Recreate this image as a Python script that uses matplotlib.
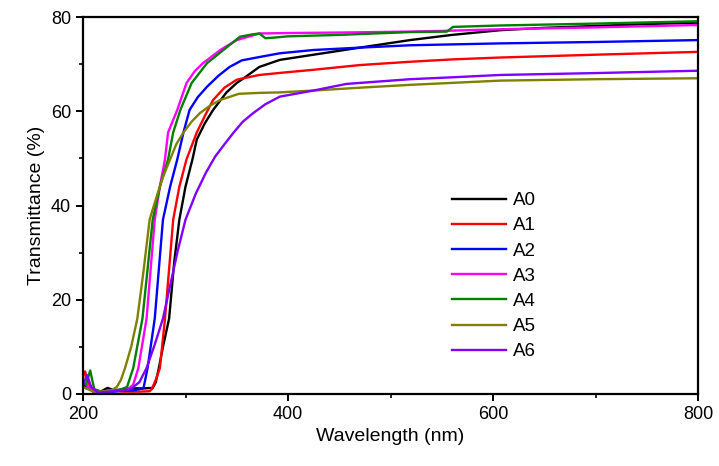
import matplotlib
matplotlib.use("Agg")
import matplotlib.pyplot as plt
from matplotlib.ticker import MultipleLocator

plt.rcParams['font.family'] = ['Arial', 'Liberation Sans', 'DejaVu Sans']

# A0
wl_a0 = [200, 203, 207, 212, 218, 224, 230, 240, 250, 260, 268, 271, 274, 278, 284, 289, 294,
         300, 307, 311, 319, 327, 340, 350, 360, 372, 392, 425, 470, 519, 560, 607, 650, 700, 750, 800]
t_a0 = [2.0, 1.2, 1.5, 0.5, 0.6, 1.3, 0.8, 1.0, 1.2, 1.2, 1.3, 2.5, 5.5, 10, 16, 28, 37,
        44, 50, 54, 57.5, 60.3, 64, 66, 67.5, 69.4, 70.9, 72, 73.5, 75.1, 76.2, 77.2, 77.7, 78.1, 78.5, 78.8]

# A1
wl_a1 = [200, 202, 205, 210, 215, 225, 240, 255, 265, 267, 271, 275, 280, 288, 294, 301, 311, 320,
         327, 338, 350, 372, 400, 425, 470, 519, 560, 607, 700, 800]
t_a1 = [3.5, 4.8, 2.5, 0.5, 0.3, 0.8, 0.5, 0.5, 0.6, 1.0, 3, 5.5, 16, 37, 44, 49.8, 55.5, 59.5,
        62.4, 65, 66.7, 67.7, 68.3, 68.8, 69.8, 70.5, 71.0, 71.4, 72.0, 72.6]

# A2
wl_a2 = [200, 205, 210, 220, 235, 250, 259, 263, 270, 278, 285, 292, 298, 304, 312, 321, 332, 343,
         355, 372, 392, 425, 470, 519, 607, 700, 800]
t_a2 = [2.5, 1.5, 0.5, 0.3, 0.6, 0.8, 1.2, 5.5, 16, 37, 44, 49.8, 55.5, 60.3, 63, 65.2, 67.5, 69.4,
        70.8, 71.5, 72.3, 73.0, 73.5, 74.0, 74.4, 74.7, 75.1]

# A3
wl_a3 = [200, 205, 210, 220, 235, 245, 249, 254, 262, 270, 275, 280, 283, 292, 301, 309, 317, 334,
         350, 372, 400, 450, 519, 560, 607, 700, 800]
t_a3 = [3.0, 1.5, 0.5, 0.5, 0.8, 1.2, 2.0, 5.5, 16, 37, 44, 49.8, 55.5, 60.3, 66, 68.5, 70.2, 73,
        75.1, 76.5, 76.6, 76.7, 76.9, 77.1, 77.4, 77.8, 78.3]

# A4
wl_a4 = [200, 203, 207, 211, 220, 235, 243, 249, 258, 268, 275, 283, 288, 295, 306, 321, 337, 353,
         365, 372, 378, 385, 400, 450, 519, 555, 561, 607, 700, 800]
t_a4 = [2.5, 2.0, 5.0, 1.0, 0.4, 0.8, 1.5, 5.5, 16, 37, 44, 49.8, 55.5, 60.3, 66, 70.2, 73, 75.8,
        76.3, 76.5, 75.5, 75.6, 75.9, 76.2, 76.8, 76.9, 77.9, 78.2, 78.6, 79.1]

# A5
wl_a5 = [200, 205, 210, 220, 228, 233, 237, 241, 247, 253, 259, 265, 272, 278, 285, 291, 298, 306,
         314, 324, 334, 352, 372, 392, 425, 470, 519, 607, 700, 800]
t_a5 = [1.5, 1.0, 0.5, 0.5, 0.8, 1.5, 3, 5.5, 10, 16, 26, 37, 42, 46, 49.8, 53, 55.5, 57.8,
        59.6, 61.2, 62.4, 63.7, 63.9, 64, 64.4, 65.0, 65.6, 66.5, 66.8, 67.0]

# A6
wl_a6 = [200, 204, 208, 215, 225, 235, 246, 255, 262, 270, 278, 285, 292, 300, 310, 320, 329, 338,
         347, 356, 366, 378, 392, 425, 457, 519, 560, 607, 700, 800]
t_a6 = [2.0, 4.0, 1.5, 0.3, 0.5, 0.7, 1.0, 2.5, 5.5, 10.5, 16, 23, 30, 37, 42.5, 47, 50.4, 53,
        55.5, 57.8, 59.6, 61.5, 63.1, 64.4, 65.8, 66.8, 67.2, 67.7, 68.1, 68.6]

labels = ["A0", "A1", "A2", "A3", "A4", "A5", "A6"]
colors = ["#000000", "#ff0000", "#0000ff", "#ff00ff", "#008000", "#808000", "#8000ff"]
xs = [wl_a0, wl_a1, wl_a2, wl_a3, wl_a4, wl_a5, wl_a6]
ys = [t_a0, t_a1, t_a2, t_a3, t_a4, t_a5, t_a6]

fig = plt.figure(figsize=(7.19, 4.66), dpi=100)
ax = fig.add_axes([83 / 719, 1 - 394 / 466, 615 / 719, 377 / 466])

for x, y, c, lab in zip(xs, ys, colors, labels):
    ax.plot(x, y, color=c, lw=1.7, label=lab)

ax.set_xlim(200, 800)
ax.set_ylim(0, 80)
ax.xaxis.set_major_locator(MultipleLocator(200))
ax.xaxis.set_minor_locator(MultipleLocator(100))
ax.yaxis.set_major_locator(MultipleLocator(20))
ax.yaxis.set_minor_locator(MultipleLocator(10))
ax.tick_params(which="major", direction="out", length=5, width=1.4, labelsize=13)
ax.tick_params(which="minor", direction="out", length=3, width=1.2)
for s in ax.spines.values():
    s.set_linewidth(1.6)

ax.set_xlabel("Wavelength (nm)", fontsize=14, labelpad=4)
ax.set_ylabel("Transmittance (%)", fontsize=14, labelpad=4)

ax.legend(loc="upper left", bbox_to_anchor=(452 / 719, 1 - 192 / 466),
          bbox_transform=fig.transFigure, frameon=False, fontsize=13.5,
          handlelength=2.9, handletextpad=0.35, labelspacing=0.43,
          borderpad=0, borderaxespad=0)

fig.savefig("out.png", dpi=100)
